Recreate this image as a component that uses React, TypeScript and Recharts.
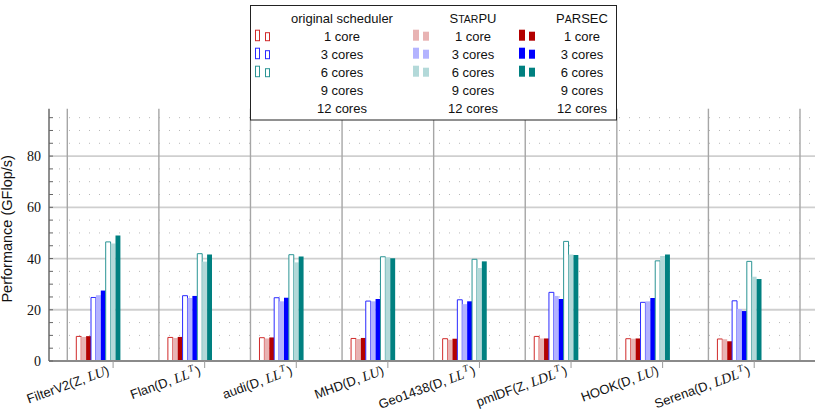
import { BarChart, Bar, XAxis, YAxis, CartesianGrid } from 'recharts'

// matrices and their factorization type
const matrices = ['FilterV2', 'Flan', 'audi', 'MHD', 'Geo1438', 'pmlDF', 'HOOK', 'Serena']
const arithmetic = ['Z', 'D', 'D', 'D', 'D', 'Z', 'D', 'D']
const factorization = ['LU', 'LLT', 'LLT', 'LU', 'LLT', 'LDLT', 'LU', 'LDLT']

const coreCounts = [1, 3, 6, 9, 12]
const coreLabels = ['1 core', '3 cores', '6 cores', '9 cores', '12 cores']
const schedulers = ['orig', 'starpu', 'parsec']

// GFlop/s per matrix
const orig1 = [9.6, 9.2, 9.1, 8.8, 8.7, 9.6, 8.7, 8.6]
const starpu1 = [9.4, 9.0, 8.8, 8.6, 8.3, 8.8, 8.7, 8.5]
const parsec1 = [9.7, 9.4, 9.2, 9.0, 8.7, 8.8, 8.8, 7.7]
const orig3 = [24.8, 25.5, 24.7, 23.4, 23.9, 26.8, 22.9, 23.5]
const starpu3 = [25.7, 24.6, 23.3, 23.3, 22.2, 25.4, 23.3, 20.3]
const parsec3 = [27.5, 25.4, 24.7, 24.2, 23.3, 24.2, 24.6, 19.5]
const orig6 = [46.5, 41.9, 41.5, 40.7, 39.7, 46.7, 39.1, 38.9]
const starpu6 = [45.9, 38.8, 38.5, 40.5, 36.3, 41.6, 41.0, 32.9]
const parsec6 = [49.0, 41.6, 40.8, 40.1, 38.9, 41.4, 41.6, 32.0]

const yTicks = [0, 5, 10, 15, 20, 25, 30, 35, 40, 45, 50, 55, 60, 65, 70, 75, 80, 85, 90, 95]
const majorY = [20, 40, 60, 80]
const minorY = yTicks.filter((v) => v > 0 && v % 20 !== 0)

const seriesValues: Record<string, number[]> = {
  orig1, starpu1, parsec1, orig3, starpu3, parsec3, orig6, starpu6, parsec6
}

const solidColors = ['#b30000', '#0000ff', '#008080']
const lightColors = ['#e8b3b3', '#b3b3ff', '#b3d9d9']
const outlineColors = ['#d02a2a', '#2a2aff', '#2a9494']

const data = matrices.map((name, i) => {
  const row: Record<string, string | number> = { name, idx: i }
  Object.keys(seriesValues).forEach((k) => {
    row[k] = seriesValues[k][i]
  })
  return row
})

const SANS = '"Liberation Sans", Arial, sans-serif'
const SERIF = '"Liberation Serif", "DejaVu Serif", serif'

const padX = 18.3
const labelAngle = -20

function MathPart({ f }: { f: string }) {
  const sup = f.endsWith('T')
  const base = sup ? f.slice(0, -1) : f
  return (
    <>
      <tspan fontFamily={SERIF} fontStyle="italic" fontSize={14}>{base}</tspan>
      {sup && <tspan fontFamily={SERIF} fontStyle="italic" fontSize={9.5} dx={1} dy={-6}>T</tspan>}
      <tspan dx={sup ? 1.5 : 0} dy={sup ? 6 : 0}>)</tspan>
    </>
  )
}

function CategoryTick(props: any) {
  const { x, y, payload } = props
  const i = payload.index
  const ax = x - 3
  const ay = y + 4
  return (
    <text
      x={ax}
      y={ay}
      transform={`rotate(${labelAngle}, ${ax}, ${ay})`}
      textAnchor="end"
      fontFamily={SANS}
      fontSize={13}
      fill="#111"
    >
      <tspan>{`${matrices[i]}(${arithmetic[i]}, `}</tspan>
      <MathPart f={factorization[i]} />
    </text>
  )
}

function ValueTick(props: any) {
  const { x, y, payload } = props
  const v = payload.value
  return (
    <g>
      <line x1={x + 8} x2={x + 12} y1={y} y2={y} stroke="#666" strokeWidth={1} />
      {v % 20 === 0 && (
        <text x={x} y={y} dy={5} textAnchor="end" fontFamily={SERIF} fontSize={14} fill="#111">
          {v}
        </text>
      )}
    </g>
  )
}

// lines between matrix groups
function groupBoundaries({ offset }: any) {
  const step = (offset.width - 2 * padX) / matrices.length
  return matrices.map((_, i) => offset.left + padX + i * step).concat(offset.left + padX + matrices.length * step)
}

function LegendMarker({ x, y, kind, ci }: { x: number; y: number; kind: string; ci: number }) {
  if (kind === 'orig') {
    return (
      <g fill="#fff" stroke={outlineColors[ci]} strokeWidth={1}>
        <rect x={x + 0.5} y={y - 10.5} width={4} height={10.5} />
        <rect x={x + 10.5} y={y - 8} width={4} height={8} />
      </g>
    )
  }
  const fill = kind === 'starpu' ? lightColors[ci] : solidColors[ci]
  return (
    <g fill={fill}>
      <rect x={x} y={y - 11} width={6} height={11} />
      <rect x={x + 10} y={y - 9} width={6} height={9} />
    </g>
  )
}

// small-caps heading: capitals at full size, lower-case letters as reduced capitals
function SmallCaps({ text }: { text: string }) {
  return (
    <>
      {text.split('').map((ch, k) =>
        ch === ch.toUpperCase() ? (
          <tspan key={k}>{ch}</tspan>
        ) : (
          <tspan key={k} fontSize={10.5}>{ch.toUpperCase()}</tspan>
        )
      )}
    </>
  )
}

function Legend() {
  const rows = [36, 54, 72, 90, 108]
  const cols = [
    { kind: 'orig', mark: 255, text: 342, title: 'original scheduler' },
    { kind: 'starpu', mark: 413, text: 473, title: 'StarPU' },
    { kind: 'parsec', mark: 519, text: 582, title: 'PaRSEC' }
  ]
  return (
    <svg width={815} height={413} style={{ position: 'absolute', left: 0, top: 0, pointerEvents: 'none' }}>
      <rect x={250.5} y={5.5} width={366} height={114.5} fill="#fff" stroke="#222" strokeWidth={1} />
      {cols.map((c) => (
        <g key={c.kind} fontFamily={SANS} fontSize={13} fill="#111" textAnchor="middle">
          <text x={c.text} y={22.5}>
            {c.kind === 'orig' ? c.title : <SmallCaps text={c.title} />}
          </text>
          {coreLabels.map((lbl, r) => (
            <text key={lbl} x={c.text} y={rows[r] + 4.5}>{lbl}</text>
          ))}
          {[0, 1, 2].map((ci) => (
            <LegendMarker key={ci} x={c.mark} y={rows[ci] + 4.7} kind={c.kind} ci={ci} />
          ))}
        </g>
      ))}
    </svg>
  )
}

export default function App() {
  const bars = coreCounts.flatMap((c, ci) =>
    schedulers.map((s) => {
      const key = `${s}${c}`
      const has = ci < 3
      const fill = !has ? 'none' : s === 'orig' ? '#fff' : s === 'starpu' ? lightColors[ci] : solidColors[ci]
      const stroke = has && s === 'orig' ? outlineColors[ci] : 'none'
      return (
        <Bar
          key={key}
          dataKey={key}
          fill={fill}
          stroke={stroke}
          strokeWidth={1}
          barSize={4.9}
          isAnimationActive={false}
        />
      )
    })
  )

  return (
    <div style={{ position: 'fixed', left: 0, top: 0, width: 815, height: 413, overflow: 'hidden', background: '#fff' }}>
      <BarChart
        width={830}
        height={413}
        data={data}
        barGap={0}
        margin={{ top: 108.7, right: 11.7, bottom: 0, left: 0 }}
      >
        <CartesianGrid
          vertical={false}
          horizontalValues={minorY}
          stroke="#b8b8b8"
          strokeWidth={1}
          strokeDasharray="1 9"
        />
        <CartesianGrid vertical={false} horizontalValues={majorY} stroke="#cfcfcf" strokeWidth={1.8} />
        <CartesianGrid horizontal={false} verticalCoordinatesGenerator={groupBoundaries} stroke="#a6a6a6" strokeWidth={1.4} />
        <XAxis
          dataKey="name"
          interval={0}
          height={52}
          padding={{ left: padX, right: padX }}
          axisLine={{ stroke: '#8a8a8a', strokeWidth: 2 }}
          tickLine={{ stroke: '#9a9a9a' }}
          tickSize={7}
          tickMargin={2}
          tick={<CategoryTick />}
        />
        <XAxis
          xAxisId="top"
          dataKey="name"
          orientation="top"
          interval={0}
          height={0}
          padding={{ left: padX, right: padX }}
          axisLine={{ stroke: '#6a6a6a', strokeWidth: 1.5 }}
          tickLine={{ stroke: '#9a9a9a' }}
          tickSize={7}
          tick={false}
        />
        <YAxis
          type="number"
          width={49}
          domain={[0, 98.5]}
          ticks={yTicks}
          allowDataOverflow
          interval={0}
          axisLine={{ stroke: '#6a6a6a', strokeWidth: 1.5 }}
          tickLine={false}
          tickSize={0}
          tickMargin={8}
          tick={<ValueTick />}
          label={{
            value: 'Performance (GFlop/s)',
            angle: -90,
            position: 'insideLeft',
            offset: 0,
            style: { fontFamily: SANS, fontSize: 14.5, fill: '#111', textAnchor: 'middle' },
            dx: 7,
            dy: -6
          }}
        />
        {bars}
      </BarChart>
      <Legend />
    </div>
  )
}
